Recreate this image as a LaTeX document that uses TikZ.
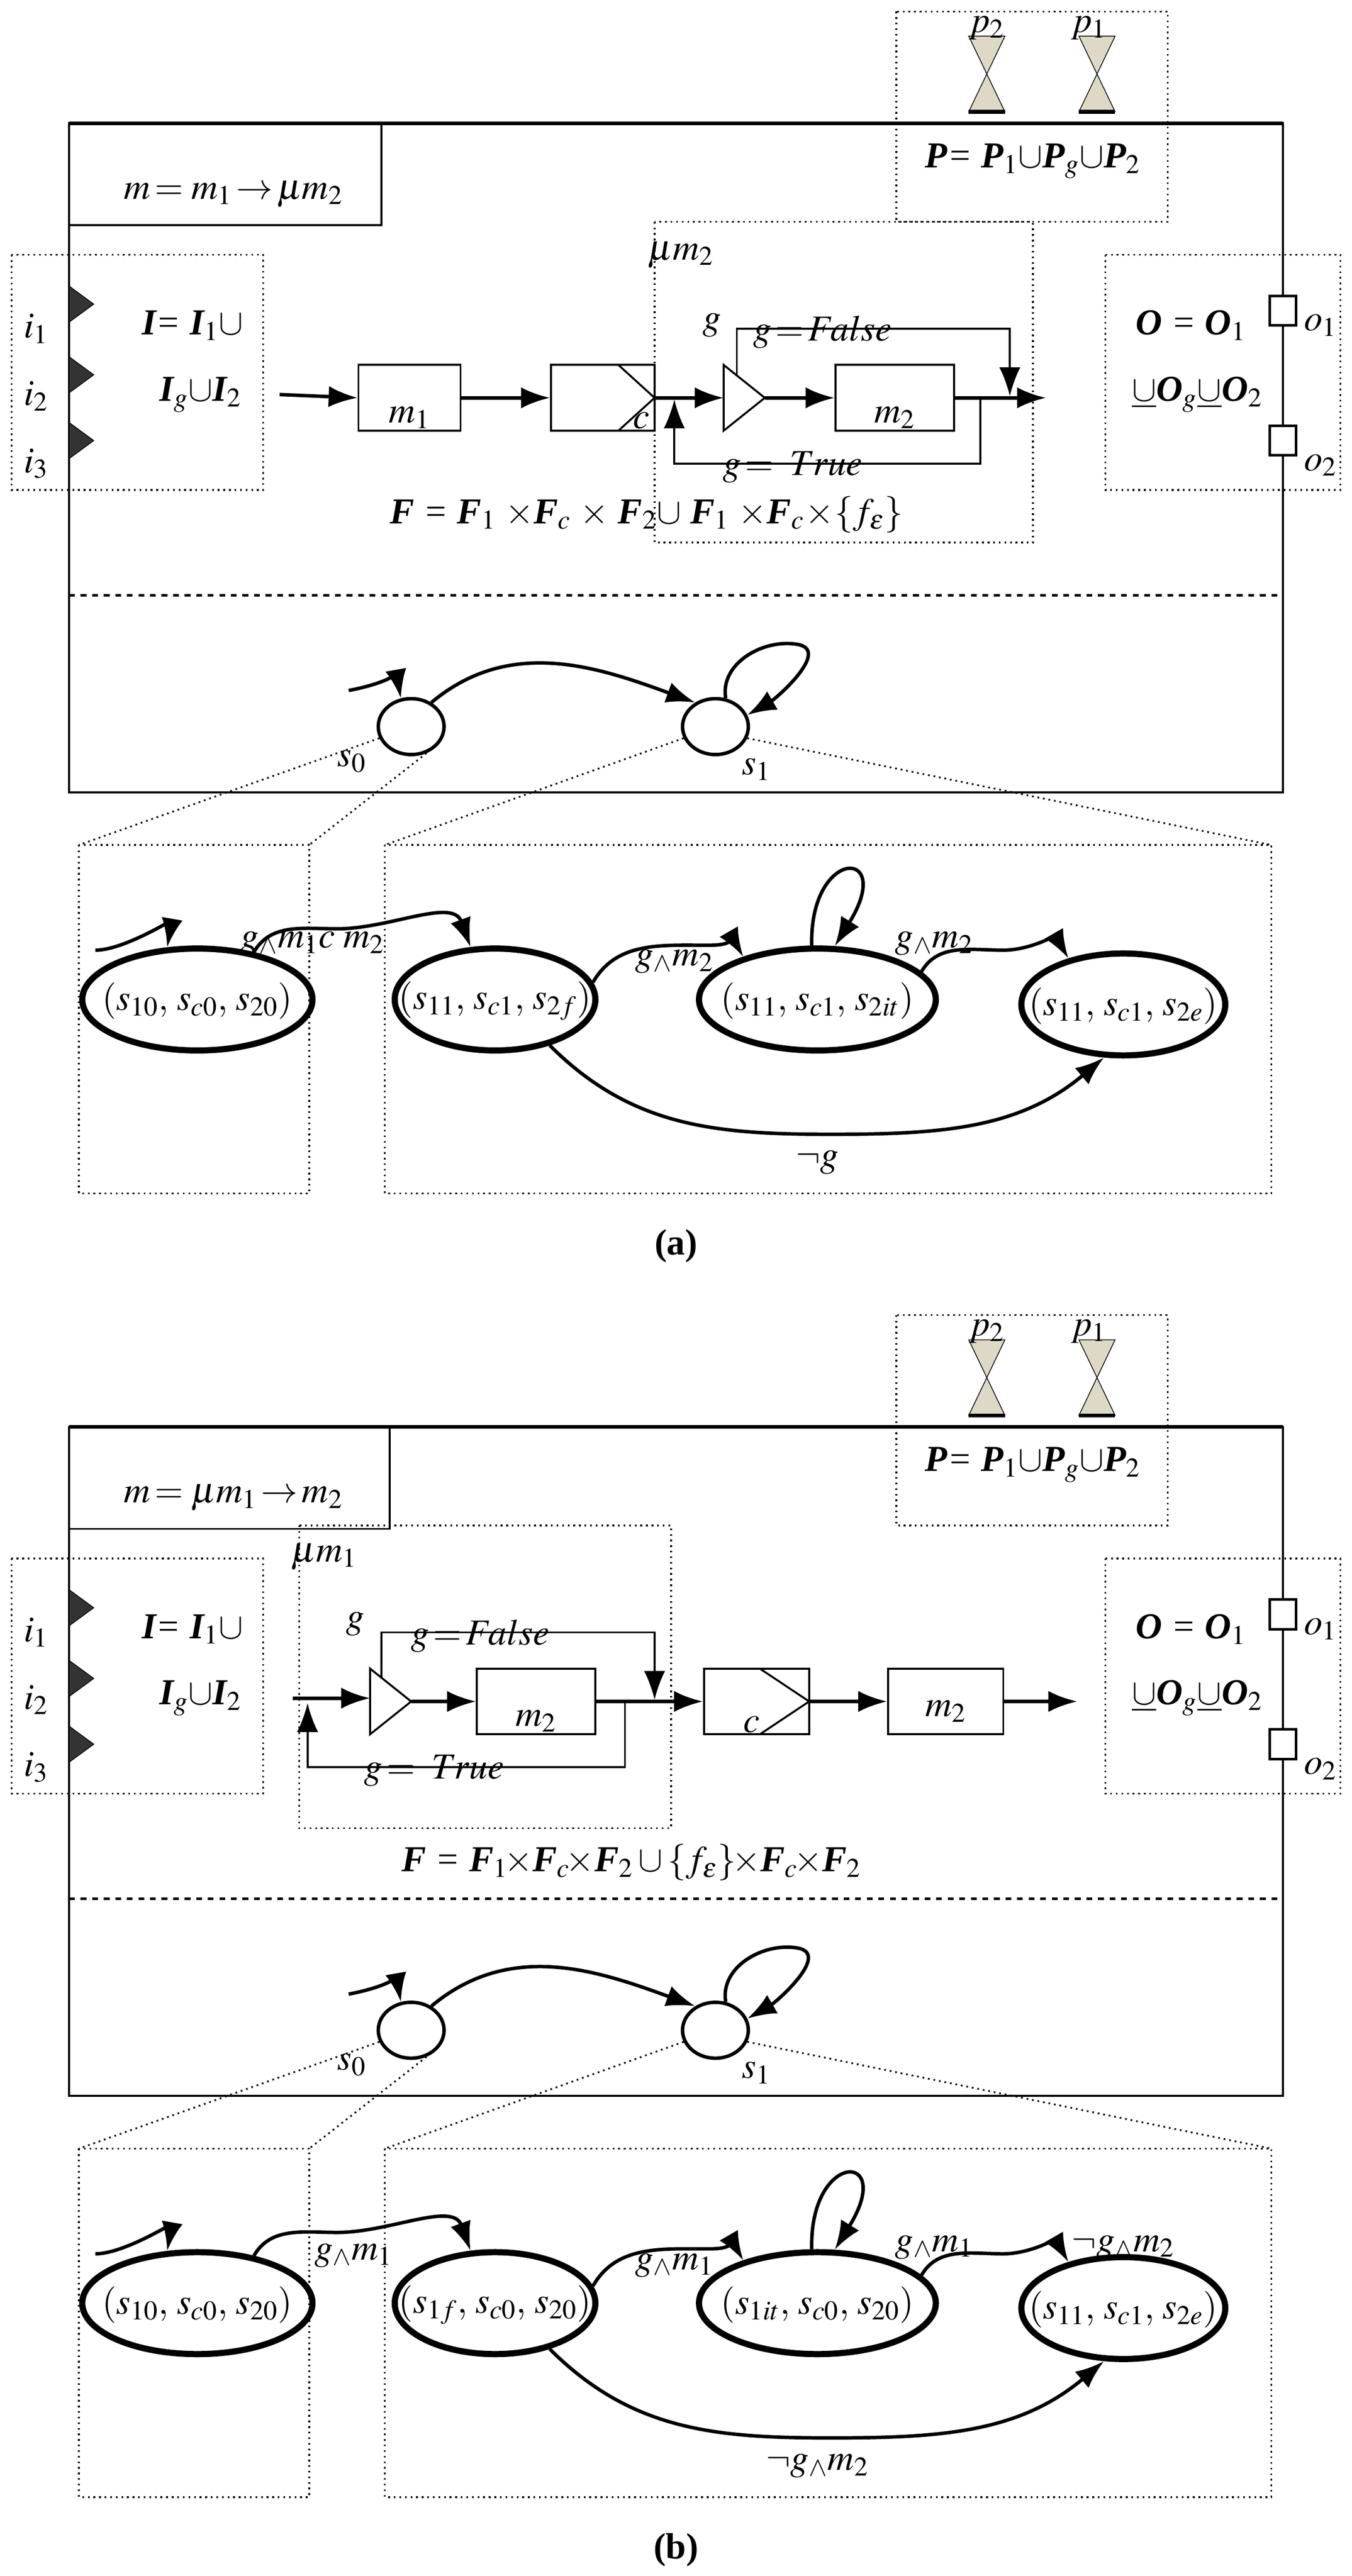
\documentclass[tikz,border=0pt]{standalone}
\usepackage{amsmath}
\usepackage{mathptmx}
\usepackage{fontspec}
\setmainfont{Liberation Serif}
\usetikzlibrary{positioning,arrows.meta,shapes.geometric}
\def\u{0.03cm}
\newcommand\bb[1]{\textbf{\textit{#1}}}
\definecolor{tiegray}{rgb}{0.87,0.85,0.78}
\tikzset{%
  >={Latex[length=15pt,width=11pt]},
  every node/.style={font=\fontsize{19}{21}\selectfont\itshape},
  frame/.style={line width=1pt},
  dotbox/.style={dotted,line width=0.9pt},
  blk/.style={draw,line width=1pt,inner sep=0pt},
  flow/.style={->,line width=1.8pt},
  trans/.style={->,line width=1.8pt},
  st/.style={draw,ellipse,line width=1.8pt,inner sep=0pt,minimum width=40*\u,minimum height=34*\u},
  bigst/.style={draw,ellipse,line width=3.2pt,inner sep=0pt,minimum height=62*\u},
  lbl/.style={inner sep=1pt}
}
% bowtie port at x position #1
\newcommand\portp[1]{%
  \draw[fill=tiegray] (#1-11,22) -- (#1+11,22) -- (#1,45) -- cycle;
  \draw[fill=tiegray] (#1-11,68) -- (#1+11,68) -- (#1,45) -- cycle;
  \draw[line width=2pt] (#1-11,68) -- (#1+11,68);
}
% input port at y position #1
\newcommand\porti[1]{%
  \draw[fill=black!80] (42,#1-11) -- (57,#1) -- (42,#1+11) -- cycle;
}
% common frame of one panel, names end with #1
\newcommand\frameparts[2]{%
  \draw[frame] (42,75) rectangle (780,482);
  \draw[line width=2pt] (42,75) -- (780,75);
  \draw[frame] (42,75) rectangle (#2,137);
  \draw[dotbox] (545,7) rectangle (710,135);
  \portp{600} \portp{667}
  \node[lbl] at (600,17) {$p_2$};
  \node[lbl] at (662,17) {$p_1$};
  \node[lbl] at (628,98) {\bb{P}= \bb{P}$_1\cup$\bb{P}$_g\cup$\bb{P}$_2$};
  \draw[dotbox] (7,155) rectangle (160,298);
  \porti{185} \porti{228} \porti{268}
  \node[lbl] at (22,200) {$i_1$};
  \node[lbl] at (22,241) {$i_2$};
  \node[lbl] at (22,282) {$i_3$};
  \node[lbl] at (117,198) {\bb{I}= \bb{I}$_1\cup$};
  \node[lbl] at (122,240) {\bb{I}$_g\cup$\bb{I}$_2$};
  \draw[dotbox] (672,155) rectangle (815,298);
  \draw[line width=1.3pt,fill=white] (772,180) rectangle (788,198);
  \draw[line width=1.3pt,fill=white] (772,259) rectangle (788,277);
  \node[lbl] at (803,198) {$o_1$};
  \node[lbl] at (803,283) {$o_2$};
  \node[lbl] at (724,198) {\bb{O} = \bb{O}$_1$};
  \node[lbl] at (728,240) {$\underline{\cup}$\bb{O}$_g\underline{\cup}$\bb{O}$_2$};
  \draw[dashed,line width=1.3pt] (42,362) -- (780,362);
  % upper states
  \node[st] (s0#1) at (250,442) {};
  \node[st] (s1#1) at (435,442) {};
  \node[lbl] at (214,463) {$s_0$};
  \node[lbl] at (460,468) {$s_1$};
  \coordinate (in#1) at (212,420);
  \draw[trans] (in#1) to[out=10,in=100] (s0#1.110);
  \draw[trans] (s0#1.50) to[out=40,in=160] (s1#1.130);
  \draw[trans] (s1#1.70) to[out=100,in=170] (485,392) to[out=-10,in=30] (s1#1.20);
  % lower boxes
  \draw[dotbox] (48,514) rectangle (188,726);
  \draw[dotbox] (234,514) rectangle (773,726);
  \draw[dotbox] (s0#1.200) -- (48,514);
  \draw[dotbox] (s0#1.-60) -- (188,514);
  \draw[dotbox] (s1#1.200) -- (234,514);
  \draw[dotbox] (s1#1.-20) -- (773,514);
  % product states
  \node[bigst,minimum width=140*\u] (e1#1) at (120,608) {};
  \node[bigst,minimum width=122*\u] (e2#1) at (301,608) {};
  \node[bigst,minimum width=144*\u] (e3#1) at (497,608) {};
  \node[bigst,minimum width=124*\u] (e4#1) at (683,611) {};
  \coordinate (ein#1) at (58,578);
  \draw[trans] (ein#1) to[out=0,in=80] (e1#1.120);
  \draw[trans] (e1#1.40) to[out=60,in=180] (205,565) to[out=0,in=110] (e2#1.115);
  \draw[trans] (e2#1.10) to[out=60,in=180] (430,575) to[out=0,in=120] (e3#1.150);
  \draw[trans] (e3#1.96) .. controls (492,515) and (545,515) .. (e3#1.72);
  \draw[trans] (e3#1.15) to[out=60,in=180] (610,578) to[out=0,in=120] (e4#1.140);
  \draw[trans] (e2#1.-40) to[out=-45,in=180] (505,690) to[out=0,in=-140] (e4#1.-110);
}

\begin{document}
\begin{tikzpicture}[x=\u,y=-\u]
\useasboundingbox (0,0) rectangle (822,1567);
%% panel (a)
\frameparts{a}{232}
\node[lbl] at (142,118) {$m\!=m_1\!\rightarrow\!\mu m_2$};
\draw[dotbox] (398,135) rectangle (628,330);
\node[lbl] at (414,155) {$\mu m_2$};
\node[blk,minimum width=62*\u,minimum height=40*\u] (m1a) at (249,242) {};
\node[lbl] at (249,254) {$m_1$};
\node[blk,minimum width=63*\u,minimum height=40*\u] (ca) at (366.5,242) {};
\draw[line width=1pt] (376,222) -- (398,242) -- (376,262);
\node[lbl] at (390,256) {$c$};
\draw[line width=1pt] (440,222) coordinate (gta) -- (465,242) coordinate (gtb) -- (440,262) -- cycle;
\coordinate (gia) at (440,242);
\node[lbl] at (433,198) {$g$};
\node[blk,minimum width=72*\u,minimum height=40*\u] (m2a) at (544,242) {};
\node[lbl] at (544,254) {$m_2$};
\coordinate (srca) at (170,240);
\coordinate (outa) at (636,242);
\draw[flow] (srca) -- (m1a.west);
\draw[flow] (m1a.east) -- (ca.west);
\draw[flow] (ca.east) -- (gia);
\draw[flow] (gtb) -- (m2a.west);
\draw[flow] (m2a.east) -- (outa);
\draw[->,line width=1pt] (448,228) |- (614,200) -- (614,241);
\draw[->,line width=1pt] (596,242) |- (410,282) -- (410,243);
\node[lbl] at (500,202) {$g\!=\!False$};
\node[lbl] at (482,284) {$g\!=\;True$};
\node[lbl] at (393,313) {\bb{F} = \bb{F}$_1$ $\times$\bb{F}$_c$ $\times$ \bb{F}$_2\cup$ \bb{F}$_1$ $\times$\bb{F}$_c\!\times\!\{f_\varepsilon\}$};
\node[lbl] at (120,609) {$(s_{10},\,s_{c0},\,s_{20})$};
\node[lbl] at (301,609) {$(s_{11},\,s_{c1},\,s_{2f})$};
\node[lbl] at (497,609) {$(s_{11},\,s_{c1},\,s_{2it})$};
\node[lbl] at (683,612) {$(s_{11},\,s_{c1},\,s_{2e})$};
\node[lbl] at (190,574) {$g_\wedge m_1 c\; m_2$};
\node[lbl] at (410,585) {$g_\wedge m_2$};
\node[lbl] at (568,574) {$g_\wedge m_2$};
\node[lbl] at (497,707) {$\neg g$};
\node[font=\fontsize{19}{21}\selectfont\bfseries] at (411,758) {(a)};
%% panel (b)
\begin{scope}[shift={(0,793)}]
\frameparts{b}{237}
\node[lbl] at (142,118) {$m\!=\mu m_1\!\rightarrow\!m_2$};
\draw[dotbox] (182,135) rectangle (408,319);
\node[lbl] at (197,154) {$\mu m_1$};
\draw[line width=1pt] (225,222) -- (250,242) coordinate (gtbb) -- (225,262) -- cycle;
\coordinate (giab) at (225,240);
\node[lbl] at (216,195) {$g$};
\node[blk,minimum width=72*\u,minimum height=40*\u] (m1b) at (326,242) {};
\node[lbl] at (326,254) {$m_2$};
\node[blk,minimum width=64*\u,minimum height=40*\u] (cb) at (460,242) {};
\draw[line width=1pt] (462,222) -- (492,242) -- (462,262);
\node[lbl] at (457,256) {$c$};
\node[blk,minimum width=70*\u,minimum height=40*\u] (m2b) at (575,242) {};
\node[lbl] at (575,248) {$m_2$};
\coordinate (srcb) at (178,240);
\coordinate (outb) at (655,242);
\draw[flow] (srcb) -- (giab);
\draw[flow] (gtbb) -- (m1b.west);
\draw[flow] (m1b.east) -- (cb.west);
\draw[flow] (cb.east) -- (m2b.west);
\draw[flow] (m2b.east) -- (outb);
\draw[->,line width=1pt] (232,228) |- (398,200) -- (398,241);
\draw[->,line width=1pt] (380,242) |- (187,282) -- (187,243);
\node[lbl] at (292,202) {$g\!=\!False$};
\node[lbl] at (264,284) {$g\!=\;True$};
\node[lbl] at (384,340) {\bb{F} = \bb{F}$_1\!\times$\bb{F}$_c\!\times$\bb{F}$_2\cup\{f_\varepsilon\}\!\times$\bb{F}$_c\!\times$\bb{F}$_2$};
\node[lbl] at (120,609) {$(s_{10},\,s_{c0},\,s_{20})$};
\node[lbl] at (301,609) {$(s_{1f},\,s_{c0},\,s_{20})$};
\node[lbl] at (497,609) {$(s_{1it},\,s_{c0},\,s_{20})$};
\node[lbl] at (683,612) {$(s_{11},\,s_{c1},\,s_{2e})$};
\node[lbl] at (215,579) {$g_\wedge m_1$};
\node[lbl] at (410,585) {$g_\wedge m_1$};
\node[lbl] at (568,574) {$g_\wedge m_1$};
\node[lbl] at (683,574) {$\neg g_\wedge m_2$};
\node[lbl] at (497,707) {$\neg g_\wedge m_2$};
\node[font=\fontsize{19}{21}\selectfont\bfseries] at (411,758) {(b)};
\end{scope}
\end{tikzpicture}
\end{document}
